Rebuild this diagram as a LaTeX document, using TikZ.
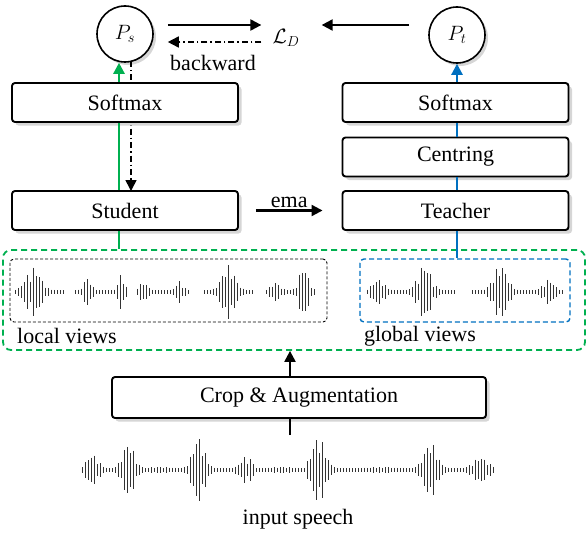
\documentclass[tikz,border=0pt]{standalone}
\usepackage{fontspec}
\setmainfont{Liberation Serif}
\usetikzlibrary{arrows.meta,calc,shadows}
\definecolor{mygreen}{RGB}{0,176,80}
\definecolor{myblue}{RGB}{0,112,192}

% xs, xe, yc, centre, amplitude, width, seed
\newcommand{\wburst}[7]{%
  \pgfmathtruncatemacro\nb{floor((#2-#1)/3)}%
  \foreach \k in {0,...,\nb}{%
    \pgfmathsetmacro\xx{#1+3*\k}%
    \pgfmathsetmacro\dd{(\xx-#4)/#6}%
    \pgfmathsetmacro\hh{1.8+#5*exp(-min((\dd)*(\dd),9))*(0.35+0.65*abs(sin(\k*73+#7)))}%
    \draw[wave] (\xx,#3-\hh) -- (\xx,#3+\hh);
  }}

\begin{document}
\begin{tikzpicture}[x=1pt,y=-1pt,
  txt/.style={font=\fontsize{22}{26}\selectfont, inner sep=1pt},
  box/.style={draw, line width=1.9pt, rounded corners=3pt, fill=white,
    minimum width=226pt, minimum height=39pt, inner sep=0pt,
    font=\fontsize{22}{26}\selectfont,
    drop shadow={shadow xshift=3.5pt, shadow yshift=-3.5pt, fill=black!16, opacity=1}},
  circ/.style={draw, circle, line width=1.6pt, fill=white, minimum size=56pt, inner sep=0pt,
    font=\fontsize{22}{26}\selectfont,
    drop shadow={shadow xshift=3pt, shadow yshift=-3pt, fill=black!16, opacity=1}},
  tip/.style={-{Triangle[length=11pt,width=11pt]}},
  arr/.style={line width=2.2pt, tip},
  dashdot/.style={line width=1.6pt, dash pattern=on 6pt off 3pt on 1.5pt off 3pt},
  gline/.style={line width=2.4pt, mygreen},
  bline/.style={line width=2.4pt, myblue},
  gdash/.style={draw=mygreen, line width=1.8pt, dash pattern=on 6pt off 4pt, rounded corners=8pt},
  kdash/.style={draw=black, line width=0.9pt, dash pattern=on 3pt off 2pt, rounded corners=4pt},
  bdash/.style={draw=myblue, line width=1.4pt, dash pattern=on 5pt off 3pt, rounded corners=4pt},
  wave/.style={line width=1pt, black!80}
]
\useasboundingbox (0,0) rectangle (588,532);

% frames
\node[gdash, minimum width=582pt, minimum height=100pt] (views) at (294,300) {};
\node[kdash, minimum width=317pt, minimum height=63pt] (lv) at (168.5,290.5) {};
\node[bdash, minimum width=210pt, minimum height=63pt] (gv) at (465,290.5) {};

% circles and loss
\node[circ] (ps) at (125,34) {$P_s$};
\node[circ] (pt) at (457,35) {$P_t$};
\node[txt] (ld) at (286,38) {$\mathcal{L}_D$};
\node[txt] (bw) at (213,63) {backward};

% dash-dot backward path (behind the boxes)
\coordinate (bk) at (131,61);
\draw[dashdot, tip] (bk) -- (bk |- 0,191);

% boxes
\node[box] (ssoft) at (125,102.5) {Softmax};
\node[box] (stud) at (125,210.5) {Student};
\node[box] (tsoft) at (455.5,102.5) {Softmax};
\node[box] (cent) at (455.5,157) {Centring};
\node[box] (teach) at (455.5,210.5) {Teacher};
\node[box, minimum width=374pt, minimum height=41pt] (crop) at (299,397.5) {Crop \& Augmentation};

% student branch
\draw[gline] ([xshift=-6pt]stud.south) -- ([xshift=-6pt]stud.south |- views.north);
\draw[gline] ([xshift=-6pt]stud.north) -- ([xshift=-6pt]ssoft.south);
\draw[gline, tip] ([xshift=-6pt]ssoft.north) -- ([xshift=-6pt]ssoft.north |- ps.south);

% teacher branch
\draw[bline] ([xshift=1.5pt]teach.south) -- ([xshift=1.5pt]teach.south |- gv.north);
\draw[bline] ([xshift=1.5pt]teach.north) -- ([xshift=1.5pt]cent.south);
\draw[bline] ([xshift=1.5pt]cent.north) -- ([xshift=1.5pt]tsoft.south);
\draw[bline, tip] ([xshift=1.5pt]tsoft.north) -- (pt.south);

% loss arrows
\draw[arr] ($(ps.east)+(14,-9)$) -- ($(ld.west)+(-10,-13)$);
\draw[dashdot, tip] ($(ld.west)+(-10,4)$) -- ($(ps.east)+(14,8)$);
\draw[arr] ($(pt.west)+(-19,-10)$) -- ($(ld.east)+(21,-13)$);

% ema
\draw[arr] ($(stud.east)+(17,0)$) -- ($(teach.west)+(-19,0)$) node[midway, above=1pt, txt] (ema) {ema};

% crop
\coordinate (inp) at (290,435);
\draw[line width=2.2pt] (inp) -- (inp |- crop.south);
\draw[arr] ([xshift=-9pt]crop.north) -- ([xshift=-9pt]crop.north |- views.south);

% labels
\node[txt] (lvt) at (67,336) {local views};
\node[txt] (gvt) at (420,336) {global views};
\node[txt] (ist) at (298,519) {input speech};

% local view waveforms
\wburst{15}{63}{292}{33}{23}{10}{0}
\wburst{75}{99}{292}{87}{13}{5}{20}
\wburst{102}{126}{292}{121}{17}{4}{40}
\wburst{137}{158}{292}{143}{8}{6}{10}
\wburst{161}{188}{292}{179}{9}{5}{30}
\wburst{204}{253}{292}{228}{25}{9}{50}
\wburst{266}{287}{292}{275}{8}{6}{15}
\wburst{290}{314}{292}{303}{25}{6}{35}
% global view waveforms
\wburst{367}{394}{292}{378}{11}{8}{5}
\wburst{397}{455}{292}{424}{26}{9}{25}
\wburst{472}{529}{292}{500}{26}{9}{45}
\wburst{532}{563}{292}{548}{11}{7}{65}
% input waveform
\wburst{82}{112}{470}{92}{14}{8}{0}
\wburst{115}{145}{470}{128}{26}{8}{20}
\wburst{148}{178}{470}{160}{1}{20}{0}
\wburst{181}{217}{470}{198}{32}{8}{40}
\wburst{220}{253}{470}{246}{12}{8}{60}
\wburst{256}{304}{470}{280}{1}{20}{0}
\wburst{307}{343}{470}{318}{32}{9}{80}
\wburst{346}{412}{470}{380}{1}{20}{0}
\wburst{415}{448}{470}{430}{26}{9}{15}
\wburst{451}{495}{470}{480}{11}{10}{35}
\end{tikzpicture}
\end{document}
